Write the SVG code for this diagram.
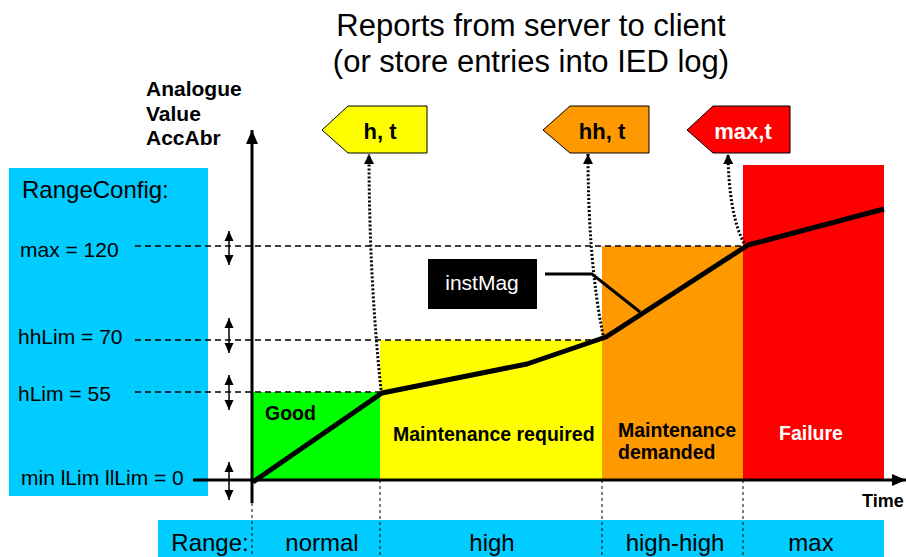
<svg xmlns="http://www.w3.org/2000/svg" width="906" height="557" viewBox="0 0 906 557">
<style>
text{font-family:"Liberation Sans",Arial,sans-serif;fill:#000}
.b{font-weight:bold}
.lvl{font-size:21px}
.rng{font-size:24px;text-anchor:middle}
.reg{font-size:19.5px;font-weight:bold}
.flagt{font-size:22px;font-weight:bold;text-anchor:middle}
.hd{fill:none;stroke:#000;stroke-width:1.5;stroke-dasharray:6 4}
.vd{fill:none;stroke:#000;stroke-width:1;stroke-dasharray:3 3}
.dot{fill:none;stroke:#000;stroke-width:3;stroke-dasharray:2 2;marker-end:url(#ah)}
.dbl{fill:none;stroke:#000;stroke-width:1.5;marker-start:url(#sa);marker-end:url(#sa)}
.flag{stroke:#000;stroke-width:1}
</style>
<defs>
<marker id="ah" markerUnits="userSpaceOnUse" markerWidth="10" markerHeight="10" refX="10" refY="5" orient="auto"><path d="M0,0 L10,5 L0,10 z" fill="#000"/></marker>
<marker id="sa" markerUnits="userSpaceOnUse" markerWidth="10" markerHeight="10" refX="10" refY="5" orient="auto-start-reverse"><path d="M0,0.5 L10,5 L0,9.5 z" fill="#000"/></marker>
<marker id="ax" markerUnits="userSpaceOnUse" markerWidth="14" markerHeight="14" refX="14" refY="7" orient="auto"><path d="M0,1 L14,7 L0,13 z" fill="#000"/></marker>
</defs>

<g id="title">
<text x="531" y="36" font-size="31" text-anchor="middle">Reports from server to client</text>
<text x="531" y="72" font-size="31" text-anchor="middle">(or store entries into IED log)</text>
</g>

<g id="axis-label">
<text class="b" x="146" y="96" font-size="21">Analogue</text>
<text class="b" x="146" y="121" font-size="21">Value</text>
<text class="b" x="146" y="145" font-size="21">AccAbr</text>
</g>

<g id="rangeconfig">
<rect x="9" y="168" width="199" height="328" fill="#00CCFF"/>
<text x="22" y="198" font-size="24">RangeConfig:</text>
<text class="lvl" x="20" y="257">max = 120</text>
<text class="lvl" x="18" y="344">hhLim = 70</text>
<text class="lvl" x="18" y="401">hLim = 55</text>
<text class="lvl" x="21" y="485">min lLim llLim = 0</text>
</g>

<g id="regions">
<rect id="good" x="252" y="392" width="128" height="88" fill="#00FF00"/>
<rect id="maint-req" x="380" y="340" width="222" height="140" fill="#FFFF00"/>
<rect id="maint-dem" x="602" y="246" width="141" height="234" fill="#FF9900"/>
<rect id="failure" x="743" y="165" width="141" height="315" fill="#FF0000"/>
<text class="reg" x="265" y="420">Good</text>
<text class="reg" x="393" y="441">Maintenance required</text>
<text class="reg" x="618" y="437">Maintenance</text>
<text class="reg" x="618" y="459">demanded</text>
<text class="reg" x="779" y="440" style="fill:#fff">Failure</text>
</g>

<g id="rangebar">
<rect x="158" y="520" width="726" height="37" fill="#00CCFF"/>
<text class="rng" x="210" y="551">Range:</text>
<text class="rng" x="322" y="551">normal</text>
<text class="rng" x="492" y="551">high</text>
<text class="rng" x="675" y="551">high-high</text>
<text class="rng" x="811" y="551">max</text>
</g>

<g id="connectors">
<path class="hd" d="M135,246 H743"/>
<path class="hd" d="M135,340 H602"/>
<path class="hd" d="M135,392 H380"/>
<path class="vd" d="M252,503 V557"/>
<path class="vd" d="M380,480 V557"/>
<path class="vd" d="M602,480 V557"/>
<path class="vd" d="M743,480 V557"/>
<path class="dbl" d="M229,231 V265"/>
<path class="dbl" d="M229,318 V353"/>
<path class="dbl" d="M229,375 V410"/>
<path class="dbl" d="M229,462 V500"/>
<path d="M252,503 V130" fill="none" stroke="#000" stroke-width="3" marker-end="url(#ax)"/>
<path d="M193,480 H906" fill="none" stroke="#000" stroke-width="3" marker-end="url(#ax)"/>
<path id="curve" d="M253,482 L382,393 L527,364 L606,337 L748,245 L884,209" fill="none" stroke="#000" stroke-width="5" stroke-linejoin="round"/>
<path class="dot" d="M381,390 Q369,275 369,154"/>
<path class="dot" d="M603,335 Q588,260 588,154"/>
<path class="dot" d="M744,243 Q729,215 728,154"/>
<path d="M545,274 H592 L640,312" fill="none" stroke="#000" stroke-width="3"/>
</g>

<g id="instmag">
<rect x="428" y="259" width="109" height="50" fill="#000"/>
<text x="482" y="290" font-size="21" text-anchor="middle" style="fill:#fff">instMag</text>
</g>

<g id="flag-h">
<path class="flag" d="M322,130 L348,106 H427 V153 H348 z" fill="#FFFF00"/>
<text class="flagt" x="380" y="139">h, t</text>
</g>
<g id="flag-hh">
<path class="flag" d="M543,130 L570,106 H649 V153 H570 z" fill="#FF9900"/>
<text class="flagt" x="602" y="139">hh, t</text>
</g>
<g id="flag-max">
<path class="flag" d="M687,130 L713,106 H790 V153 H713 z" fill="#FF0000"/>
<text class="flagt" x="743" y="139" style="fill:#fff">max,t</text>
</g>

<text class="b" x="862" y="507" font-size="18">Time</text>
</svg>
